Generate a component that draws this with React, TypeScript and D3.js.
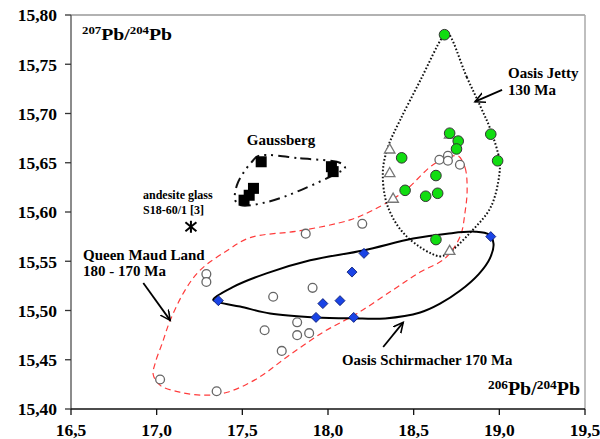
import React from "react";
import * as d3 from "d3";

// 206Pb/204Pb vs 207Pb/204Pb
const xTicks = [16.5, 17.0, 17.5, 18.0, 18.5, 19.0, 19.5];
const yTicks = [15.4, 15.45, 15.5, 15.55, 15.6, 15.65, 15.7, 15.75, 15.8];

const oasisJetty: [number, number][] = [
  [18.68, 15.78], [18.71, 15.68], [18.76, 15.672], [18.75, 15.664],
  [18.95, 15.679], [18.99, 15.652], [18.43, 15.655], [18.63, 15.637],
  [18.45, 15.622], [18.57, 15.616], [18.64, 15.619], [18.63, 15.572],
];

const queenMaud: [number, number][] = [
  [17.29, 15.537], [17.29, 15.529], [17.68, 15.514], [17.82, 15.488],
  [17.63, 15.48], [17.82, 15.475], [17.89, 15.477], [17.73, 15.459],
  [17.02, 15.43], [17.35, 15.418], [17.87, 15.578], [18.2, 15.588],
  [17.91, 15.523], [18.65, 15.653], [18.7, 15.657], [18.7, 15.652],
  [18.77, 15.648],
];

const triangles: [number, number][] = [
  [18.36, 15.664], [18.36, 15.64], [18.38, 15.614], [18.71, 15.679], [18.71, 15.561],
];

const schirmacher: [number, number][] = [
  [18.21, 15.558], [18.14, 15.539], [18.07, 15.51], [17.97, 15.507],
  [17.93, 15.493], [18.15, 15.493], [17.36, 15.51], [18.95, 15.575],
];

const gaussberg: [number, number][] = [
  [17.61, 15.651], [18.02, 15.646], [18.03, 15.641],
  [17.565, 15.624], [17.54, 15.617], [17.51, 15.612],
];

const andesite: [number, number] = [17.2, 15.585];

// field outlines
const jettyField: [number, number][] = [
  [18.696, 15.782], [18.81, 15.737], [18.89, 15.707], [18.95, 15.683],
  [19.0, 15.653], [19.0, 15.638], [18.95, 15.605], [18.83, 15.579],
  [18.7, 15.558], [18.65, 15.555], [18.46, 15.575], [18.35, 15.605],
  [18.32, 15.64], [18.35, 15.666], [18.42, 15.693], [18.54, 15.734],
  [18.67, 15.778],
];

const gaussField: [number, number][] = [
  [17.594, 15.657], [17.838, 15.6545], [18.081, 15.649], [18.1, 15.644],
  [18.071, 15.641], [17.838, 15.622], [17.643, 15.61], [17.488, 15.607],
  [17.458, 15.612], [17.468, 15.627], [17.507, 15.64], [17.556, 15.651],
];

const maudField: [number, number][] = [
  [18.759, 15.657], [18.8, 15.645], [18.812, 15.622], [18.8, 15.6],
  [18.771, 15.575], [18.683, 15.553], [18.538, 15.539], [18.38, 15.521],
  [18.17, 15.497], [17.972, 15.478], [17.762, 15.453], [17.587, 15.431],
  [17.412, 15.417], [17.283, 15.414], [17.138, 15.417], [17.021, 15.424],
  [16.98, 15.435], [16.992, 15.447], [17.033, 15.467], [17.079, 15.49],
  [17.167, 15.521], [17.254, 15.541], [17.412, 15.561], [17.546, 15.574],
  [17.838, 15.581], [18.129, 15.592], [18.263, 15.602], [18.438, 15.62],
  [18.613, 15.648], [18.712, 15.656],
];

const schirField: [number, number][] = [
  [17.33, 15.511], [17.447, 15.524], [17.645, 15.538], [17.896, 15.551],
  [18.205, 15.561], [18.497, 15.573], [18.695, 15.578], [18.86, 15.58],
  [18.94, 15.577], [18.966, 15.568], [18.945, 15.553], [18.88, 15.537],
  [18.77, 15.52], [18.654, 15.507], [18.538, 15.498], [18.334, 15.492],
  [18.147, 15.492], [17.925, 15.493], [17.662, 15.497], [17.487, 15.504],
  [17.371, 15.508],
];

// label arrows: [from, to]
const arrows: [number, number][][] = [
  [[16.922, 15.528], [17.079, 15.49]],
  [[19.016, 15.724], [18.858, 15.712]],
  [[18.322, 15.463], [18.439, 15.488]],
];

const W = 600;
const H = 439;
const FONT = "'Liberation Serif', 'Times New Roman', serif";

export default function App() {
  const x = d3.scaleLinear().domain([16.5, 19.5]).range([71, 585]);
  const y = d3.scaleLinear().domain([15.4, 15.8]).range([409, 15]);

  const outline = d3
    .line<[number, number]>()
    .x((d) => x(d[0]))
    .y((d) => y(d[1]))
    .curve(d3.curveCatmullRomClosed.alpha(0.5));

  const fmt = (v: number, digits: number) => v.toFixed(digits).replace(".", ",");
  const diamond = d3.symbol().type(d3.symbolSquare).size(50)();
  const tri = d3.symbol().type(d3.symbolTriangle).size(48)();

  return (
    <svg
      width={W}
      height={H}
      style={{ position: "absolute", left: 0, top: 0, background: "#fff" }}
      fontFamily={FONT}
      fontWeight="bold"
    >
      <defs>
        <marker
          id="arr"
          markerUnits="userSpaceOnUse"
          markerWidth={14}
          markerHeight={14}
          refX={10}
          refY={5}
          orient="auto"
        >
          <path d="M0,0 L10,5 L0,10" fill="none" stroke="#000" strokeWidth={1.6} />
        </marker>
      </defs>

      {/* frame */}
      <line x1={71} x2={585} y1={15} y2={15} stroke="#999" strokeWidth={1.5} />
      <line x1={585} x2={585} y1={15} y2={409} stroke="#aaa" strokeWidth={1.5} />
      <line x1={71} x2={71} y1={15} y2={409} stroke="#666" strokeWidth={1.5} />
      <line x1={71} x2={585} y1={409} y2={409} stroke="#111" strokeWidth={1.5} />

      {yTicks.map((t) => (
        <g key={"y" + t}>
          <line x1={65} x2={71} y1={y(t)} y2={y(t)} stroke="#333" strokeWidth={1.3} />
          <text x={57} y={y(t)} dy="0.36em" textAnchor="end" fontSize={17.5} fill="#000">
            {fmt(t, 2)}
          </text>
        </g>
      ))}
      {xTicks.map((t) => (
        <g key={"x" + t}>
          <line x1={x(t)} x2={x(t)} y1={409} y2={415} stroke="#111" strokeWidth={1.3} />
          <text x={x(t)} y={436} textAnchor="middle" fontSize={17.5} fill="#000">
            {fmt(t, 1)}
          </text>
        </g>
      ))}

      {/* axis titles */}
      <text x={82} y={40} fontSize={17} textLength={90} lengthAdjust="spacingAndGlyphs">
        <tspan fontSize={11} dy={-6}>207</tspan>
        <tspan dy={6}>Pb/</tspan>
        <tspan fontSize={11} dy={-6}>204</tspan>
        <tspan dy={6}>Pb</tspan>
      </text>
      <text x={488} y={395} fontSize={18} textLength={92} lengthAdjust="spacingAndGlyphs">
        <tspan fontSize={12} dy={-6}>206</tspan>
        <tspan dy={6}>Pb/</tspan>
        <tspan fontSize={12} dy={-6}>204</tspan>
        <tspan dy={6}>Pb</tspan>
      </text>

      {/* fields */}
      <path d={outline(maudField) || ""} fill="none" stroke="#ff3b3b" strokeWidth={1.2} strokeDasharray="6 4" />
      <path d={outline(jettyField) || ""} fill="none" stroke="#111" strokeWidth={2} strokeDasharray="1.6 2" />
      <path d={outline(gaussField) || ""} fill="none" stroke="#111" strokeWidth={2} strokeDasharray="11 5 2 5 2 5" />
      <path d={outline(schirField) || ""} fill="none" stroke="#000" strokeWidth={2} />

      {/* arrows */}
      {arrows.map((a, i) => (
        <line
          key={"a" + i}
          x1={x(a[0][0])}
          y1={y(a[0][1])}
          x2={x(a[1][0])}
          y2={y(a[1][1])}
          stroke="#000"
          strokeWidth={1.8}
          markerEnd="url(#arr)"
        />
      ))}

      {/* points */}
      {queenMaud.map((d, i) => (
        <circle key={"q" + i} cx={x(d[0])} cy={y(d[1])} r={4.4} fill="#fff" stroke="#666" strokeWidth={1.3} />
      ))}
      {triangles.map((d, i) => (
        <path key={"t" + i} d={tri || ""} transform={`translate(${x(d[0])},${y(d[1]) + 1})`} fill="#fff" stroke="#777" strokeWidth={1.3} />
      ))}
      {oasisJetty.map((d, i) => (
        <circle key={"g" + i} cx={x(d[0])} cy={y(d[1])} r={5.3} fill="#11dd11" stroke="#333" strokeWidth={1} />
      ))}
      {schirmacher.map((d, i) => (
        <path key={"d" + i} d={diamond || ""} transform={`translate(${x(d[0])},${y(d[1])}) rotate(45)`} fill="#1a44e6" stroke="#0a1a70" strokeWidth={0.8} />
      ))}
      {gaussberg.map((d, i) => (
        <rect key={"s" + i} x={x(d[0]) - 5.5} y={y(d[1]) - 5.5} width={11} height={11} fill="#000" />
      ))}
      <g transform={`translate(${x(andesite[0])},${y(andesite[1])})`} stroke="#000" strokeWidth={2}>
        <line x1={0} x2={0} y1={-6} y2={6} />
        <line x1={-5.5} x2={5.5} y1={-4.5} y2={4.5} />
        <line x1={-5.5} x2={5.5} y1={4.5} y2={-4.5} />
      </g>

      {/* labels */}
      <text x={281} y={145} fontSize={15} textAnchor="middle">Gaussberg</text>
      <text x={143} y={199} fontSize={12}>andesite glass</text>
      <text x={143} y={214} fontSize={12}>S18-60/1 [3]</text>
      <text x={83} y={260} fontSize={15}>Queen Maud Land</text>
      <text x={83} y={276} fontSize={15}>180 - 170 Ma</text>
      <text x={508} y={78} fontSize={15}>Oasis Jetty</text>
      <text x={508} y={95} fontSize={15}>130 Ma</text>
      <text x={342} y={365} fontSize={14.8}>Oasis Schirmacher 170 Ma</text>
    </svg>
  );
}
